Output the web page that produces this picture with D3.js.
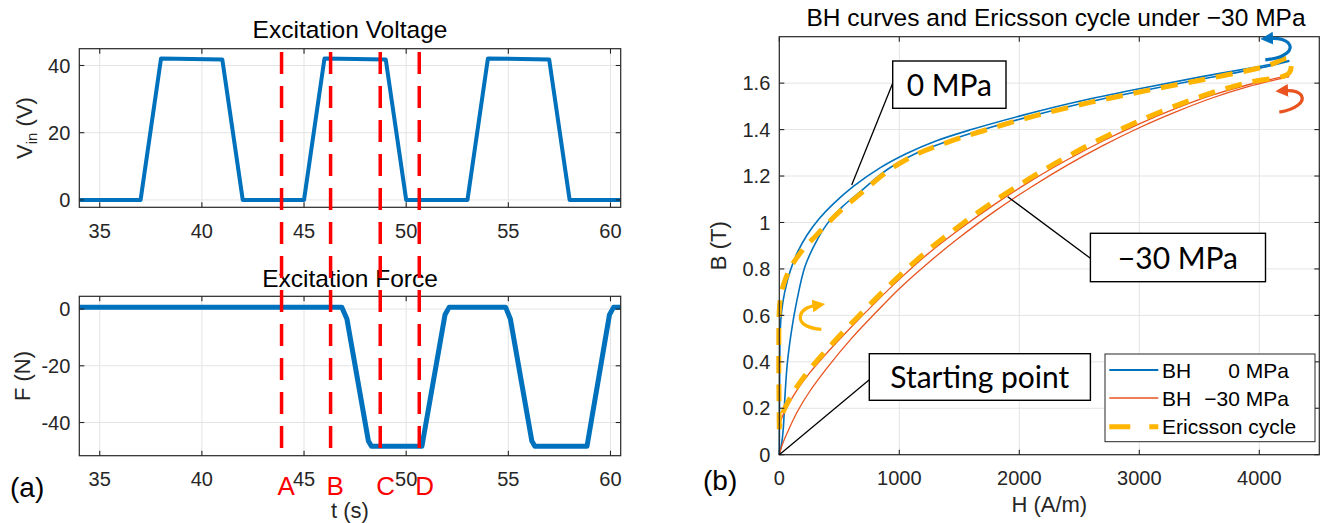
<!DOCTYPE html>
<html>
<head>
<meta charset="utf-8">
<script src="https://cdn.jsdelivr.net/npm/d3@7"></script>
<style>
  body { margin: 0; background: #fff; }
  svg { display: block; font-family: "Liberation Sans", Arial, sans-serif; }
  .tl { font-size: 20px; fill: #262626; }
  .al { font-size: 22px; fill: #262626; }
  .tt { font-size: 24.5px; fill: #000; }
  .note { font-family: Lato, "Open Sans", sans-serif; font-size: 30px; fill: #000; }
  .lg { font-size: 21px; fill: #000; }
</style>
</head>
<body>
<svg id="fig" width="1327" height="523"></svg>
<script>
// ---- (a) excitation voltage
var voltT = [34, 37, 38, 41, 42, 45, 46, 49, 50, 53, 54, 57, 58, 60.5];
var voltV = [0, 0, 42.1, 41.8, 0, 0, 42.1, 41.8, 0, 0, 42.1, 41.8, 0, 0];
// ---- (a) excitation force
var forceT = [34, 46.85, 47.1, 48.15, 48.3, 50.77, 51.9, 52.1, 54.87, 55.1, 56.15, 56.3, 58.85, 59.95, 60.15, 60.5];
var forceF = [0.6, 0.6, -3.5, -46.5, -48.4, -48.4, -2, 0.6, 0.6, -3.5, -46.5, -48.4, -48.4, -2, 0.6, 0.6];
var markT = [43.9, 46.3, 48.73, 50.64];
var markName = ["A", "B", "C", "D"];
var tTicks = [35, 40, 45, 50, 55, 60];
var vTicks = [0, 20, 40];
var fTicks = [-40, -20, 0];

// ---- (b) BH curves
var bh0OutH = [0, 2, 4, 8, 20, 45, 90, 150, 230, 330, 450, 617, 839, 1061, 1300, 1600, 2000, 2500, 3000, 3500, 4000, 4250];
var bh0OutB = [0, 0.2, 0.4, 0.54, 0.62, 0.70, 0.79, 0.87, 0.945, 1.015, 1.08, 1.155, 1.235, 1.297, 1.35, 1.40, 1.458, 1.522, 1.576, 1.626, 1.672, 1.697];
var bh0InH = [0, 20, 33, 47, 67, 103, 145, 214, 300, 400, 520, 680, 900, 1150, 1400, 1700, 2100, 2600, 3100, 3600, 4050, 4250];
var bh0InB = [0, 0.05, 0.11, 0.25, 0.395, 0.538, 0.66, 0.81, 0.91, 0.995, 1.065, 1.135, 1.228, 1.30, 1.35, 1.40, 1.458, 1.522, 1.575, 1.625, 1.67, 1.694];
var bh30H = [0, 30, 80, 150, 250, 400, 600, 800, 1000, 1250, 1500, 1800, 2100, 2400, 2700, 3000, 3300, 3600, 3900, 4250];
var bh30UpB = [0.13, 0.17, 0.22, 0.28, 0.35, 0.44, 0.55, 0.655, 0.755, 0.87, 0.97, 1.08, 1.18, 1.27, 1.352, 1.425, 1.49, 1.547, 1.592, 1.633];
var bh30LoB = [0, 0.05, 0.11, 0.185, 0.27, 0.375, 0.50, 0.61, 0.715, 0.83, 0.935, 1.05, 1.153, 1.247, 1.332, 1.408, 1.475, 1.535, 1.584, 1.628];
var ericH = [0, 0, 15, 50, 110, 200, 300, 400, 520, 680, 900, 1150, 1400, 1700, 2100, 2600, 3100, 3600, 4050, 4250, 4250,
             3900, 3600, 3300, 3000, 2700, 2400, 2100, 1800, 1500, 1250, 1000, 800, 600, 400, 250, 150, 80, 30, 0];
var ericB = [0.11, 0.62, 0.69, 0.755, 0.82, 0.885, 0.94, 0.995, 1.055, 1.125, 1.22, 1.295, 1.345, 1.395, 1.455, 1.518, 1.572, 1.622, 1.672, 1.705, 1.645,
             1.602, 1.558, 1.502, 1.438, 1.365, 1.284, 1.194, 1.095, 0.985, 0.885, 0.77, 0.67, 0.565, 0.455, 0.365, 0.295, 0.235, 0.18, 0.12];
var hTicks = [0, 1000, 2000, 3000, 4000];
var bTicks = [0, 0.2, 0.4, 0.6, 0.8, 1, 1.2, 1.4, 1.6];
var legendNames = [["BH", "0 MPa"], ["BH", "\u221230 MPa"], ["Ericsson cycle", ""]];

var cBlue = "#0072BD", cRed = "#E8531F", cOrange = "#FFB400";

var svg = d3.select("#fig");
svg.append("rect").attr("width", 1327).attr("height", 523).attr("fill", "#fff");

var xT = d3.scaleLinear().domain([34, 60.5]).range([79.3, 620.7]);
var yV = d3.scaleLinear().domain([-2.2, 45]).range([207.3, 48.7]);
var yF = d3.scaleLinear().domain([-51.7, 4.5]).range([455.7, 296.3]);
var xH = d3.scaleLinear().domain([0, 4500]).range([779.3, 1319.3]);
var yB = d3.scaleLinear().domain([0, 1.8]).range([454.7, 36.7]);

function grid(x, y, xt, yt) {
  var g = svg.append("g").attr("stroke", "#e4e4e4").attr("stroke-width", 1);
  var r = y.range();
  g.selectAll(".gx").data(xt).join("line")
    .attr("x1", d => x(d)).attr("x2", d => x(d)).attr("y1", r[0]).attr("y2", r[1]);
  g.selectAll(".gy").data(yt).join("line")
    .attr("y1", d => y(d)).attr("y2", d => y(d)).attr("x1", x.range()[0]).attr("x2", x.range()[1]);
}

function box(x, y, xt, yt) {
  var x0 = x.range()[0], x1 = x.range()[1], y0 = y.range()[0], y1 = y.range()[1];
  var g = svg.append("g");
  g.append("rect").attr("x", x0).attr("y", y1).attr("width", x1 - x0).attr("height", y0 - y1)
    .attr("fill", "none").attr("stroke", "#262626").attr("stroke-width", 1.2);
  var t = g.append("g").attr("stroke", "#262626").attr("stroke-width", 1.1);
  xt.forEach(function(d) {
    t.append("line").attr("x1", x(d)).attr("x2", x(d)).attr("y1", y0).attr("y2", y0 - 5);
    t.append("line").attr("x1", x(d)).attr("x2", x(d)).attr("y1", y1).attr("y2", y1 + 5);
  });
  yt.forEach(function(d) {
    t.append("line").attr("y1", y(d)).attr("y2", y(d)).attr("x1", x0).attr("x2", x0 + 5);
    t.append("line").attr("y1", y(d)).attr("y2", y(d)).attr("x1", x1).attr("x2", x1 - 5);
  });
  g.selectAll(".xl").data(xt).join("text").attr("class", "tl")
    .attr("x", d => x(d)).attr("y", y0 + 30.5).attr("text-anchor", "middle").text(d => String(d));
  g.selectAll(".yl").data(yt).join("text").attr("class", "tl")
    .attr("x", x0 - 9).attr("y", d => y(d)).attr("dy", "0.36em").attr("text-anchor", "end").text(d => String(d));
}

function series(xs, ys, x, y, curve) {
  return d3.line().x(d => x(d[0])).y(d => y(d[1])).curve(curve || d3.curveLinear)(d3.zip(xs, ys));
}

// ---------- panel (a), top
grid(xT, yV, tTicks, vTicks);
svg.append("path").attr("d", series(voltT, voltV, xT, yV))
  .attr("fill", "none").attr("stroke", cBlue).attr("stroke-width", 4).attr("stroke-linejoin", "round");
box(xT, yV, tTicks, vTicks);
svg.append("text").attr("class", "tt").attr("x", 350).attr("y", 38).attr("text-anchor", "middle").text("Excitation Voltage");
var vl = svg.append("text").attr("class", "al").attr("text-anchor", "middle")
  .attr("transform", "translate(31.5," + ((yV.range()[0] + yV.range()[1]) / 2) + ") rotate(-90)");
vl.append("tspan").text("V");
vl.append("tspan").attr("font-size", "15px").attr("dy", 5).text("in");
vl.append("tspan").attr("dy", -5).text(" (V)");

// ---------- panel (a), bottom
grid(xT, yF, tTicks, fTicks);
svg.append("path").attr("d", series(forceT, forceF, xT, yF))
  .attr("fill", "none").attr("stroke", cBlue).attr("stroke-width", 5).attr("stroke-linejoin", "round");
box(xT, yF, tTicks, fTicks);
svg.append("text").attr("class", "tt").attr("x", 350).attr("y", 287).attr("text-anchor", "middle").text("Excitation Force");
svg.append("text").attr("class", "al").attr("text-anchor", "middle")
  .attr("transform", "translate(30," + ((yF.range()[0] + yF.range()[1]) / 2) + ") rotate(-90)").text("F (N)");
svg.append("text").attr("class", "al").attr("x", 350).attr("y", 518).attr("text-anchor", "middle").text("t (s)");
svg.append("text").attr("x", 10).attr("y", 497).attr("font-size", "28px").text("(a)");

// phase markers A-D across both plots
svg.append("g").selectAll("line").data(markT).join("line")
  .attr("x1", d => xT(d)).attr("x2", d => xT(d)).attr("y1", yV(44)).attr("y2", yF.range()[0] + 3)
  .attr("stroke", "#FF0000").attr("stroke-width", 3.5).attr("stroke-dasharray", "22,12");
svg.append("g").selectAll("text").data(markT).join("text")
  .attr("x", d => xT(d) - 4).attr("y", 495).attr("font-size", "26px").attr("fill", "#FF0000")
  .text((d, i) => markName[i]);

// ---------- panel (b)
grid(xH, yB, hTicks, bTicks);
var smooth = d3.curveCatmullRom.alpha(0.5);
[[bh0OutH, bh0OutB, cBlue, 1.6], [bh0InH, bh0InB, cBlue, 1.6],
 [bh30H, bh30UpB, cRed, 1.3], [bh30H, bh30LoB, cRed, 1.3]].forEach(function(s) {
  svg.append("path").attr("d", series(s[0], s[1], xH, yB, smooth))
    .attr("fill", "none").attr("stroke", s[2]).attr("stroke-width", s[3]);
});
svg.append("path").attr("d", series(ericH, ericB, xH, yB, smooth))
  .attr("fill", "none").attr("stroke", cOrange).attr("stroke-width", 5).attr("stroke-dasharray", "17,11");
box(xH, yB, hTicks, bTicks);
svg.append("text").attr("class", "tt").attr("x", 1056).attr("y", 26).attr("text-anchor", "middle")
  .attr("font-size", "25px").text("BH curves and Ericsson cycle under \u221230 MPa");
svg.append("text").attr("class", "al").attr("text-anchor", "middle")
  .attr("transform", "translate(725.5," + ((yB.range()[0] + yB.range()[1]) / 2) + ") rotate(-90)").text("B (T)");
svg.append("text").attr("class", "al").attr("x", (xH.range()[0] + xH.range()[1]) / 2).attr("y", 512)
  .attr("text-anchor", "middle").text("H (A/m)");
svg.append("text").attr("x", 703).attr("y", 490).attr("font-size", "28px").text("(b)");

// direction arrows
var defs = svg.append("defs");
[["aBlue", cBlue], ["aRed", cRed], ["aOrange", cOrange]].forEach(function(m) {
  defs.append("marker").attr("id", m[0]).attr("viewBox", "0 0 10 10").attr("refX", 3).attr("refY", 5)
    .attr("markerWidth", 4).attr("markerHeight", 4).attr("orient", "auto")
    .append("path").attr("d", "M0,0 L10,5 L0,10 z").attr("fill", m[1]);
});
var bx = xH(4250), by = yB(1.70);
svg.append("path").attr("d", "M" + (bx - 24) + "," + by + " C" + (bx - 4) + "," + (by - 2) + " " + (bx + 5) + "," + (by - 10) + " " + (bx - 1) + "," + (by - 17)
    + " C" + (bx - 5) + "," + (by - 21) + " " + (bx - 13) + "," + (by - 22) + " " + (bx - 20) + "," + (by - 21.5))
  .attr("fill", "none").attr("stroke", cBlue).attr("stroke-width", 3.2).attr("marker-end", "url(#aBlue)");
var rx = xH(4250), ry = yB(1.63);
svg.append("path").attr("d", "M" + (rx - 10) + "," + (ry + 36) + " C" + (rx + 6) + "," + (ry + 33) + " " + (rx + 16) + "," + (ry + 26) + " " + (rx + 12) + "," + (ry + 19)
    + " C" + (rx + 9) + "," + (ry + 15) + " " + (rx + 2) + "," + (ry + 14) + " " + (rx - 5) + "," + (ry + 14.5))
  .attr("fill", "none").attr("stroke", cRed).attr("stroke-width", 3.2).attr("marker-end", "url(#aRed)");
var ox = xH(0), oy = yB(0.6);
svg.append("path").attr("d", "M" + (ox + 42) + "," + (oy + 14) + " C" + (ox + 30) + "," + (oy + 13) + " " + (ox + 20) + "," + (oy + 9) + " " + (ox + 21) + "," + (oy + 1)
    + " C" + (ox + 22) + "," + (oy - 6) + " " + (ox + 30) + "," + (oy - 9) + " " + (ox + 37) + "," + (oy - 10))
  .attr("fill", "none").attr("stroke", cOrange).attr("stroke-width", 3.2).attr("marker-end", "url(#aOrange)");

// text boxes with leader lines
function note(txt, x0, y0, x1, y1, lx0, ly0, lx1, ly1) {
  svg.append("line").attr("x1", lx0).attr("y1", ly0).attr("x2", lx1).attr("y2", ly1)
    .attr("stroke", "#000").attr("stroke-width", 1.3);
  svg.append("rect").attr("x", x0).attr("y", y0).attr("width", x1 - x0).attr("height", y1 - y0)
    .attr("fill", "#fff").attr("stroke", "#000").attr("stroke-width", 1.4);
  svg.append("text").attr("class", "note").attr("x", (x0 + x1) / 2).attr("y", (y0 + y1) / 2 + 11)
    .attr("text-anchor", "middle").text(txt);
}
note("0 MPa", 892.7, 61, 1006, 108.3, 892.7, 83.3, 851.7, 185);
note("\u221230 MPa", 1090.4, 233.3, 1265.5, 281.7, 1090.4, 258.3, 1007.7, 196.7);
note("Starting point", 869.3, 353.7, 1090.4, 400.3, 869.3, 379.7, xH(0), yB(0));

// legend
var lg = svg.append("g");
lg.append("rect").attr("x", 1105).attr("y", 354).attr("width", 210).attr("height", 87.7)
  .attr("fill", "#fff").attr("stroke", "#262626").attr("stroke-width", 1);
var lgY = [370, 398, 426.7];
var lgStyle = [[cBlue, 2, null], [cRed, 1.4, null], [cOrange, 5, "21,19"]];
legendNames.forEach(function(n, i) {
  lg.append("line").attr("x1", 1109.3).attr("x2", 1158.3).attr("y1", lgY[i]).attr("y2", lgY[i])
    .attr("stroke", lgStyle[i][0]).attr("stroke-width", lgStyle[i][1]).attr("stroke-dasharray", lgStyle[i][2]);
  lg.append("text").attr("class", "lg").attr("x", 1162).attr("y", lgY[i] + 7.5).text(n[0]);
  if (n[1]) lg.append("text").attr("class", "lg").attr("x", 1289).attr("y", lgY[i] + 7.5)
    .attr("text-anchor", "end").text(n[1]);
});
</script>
</body>
</html>
